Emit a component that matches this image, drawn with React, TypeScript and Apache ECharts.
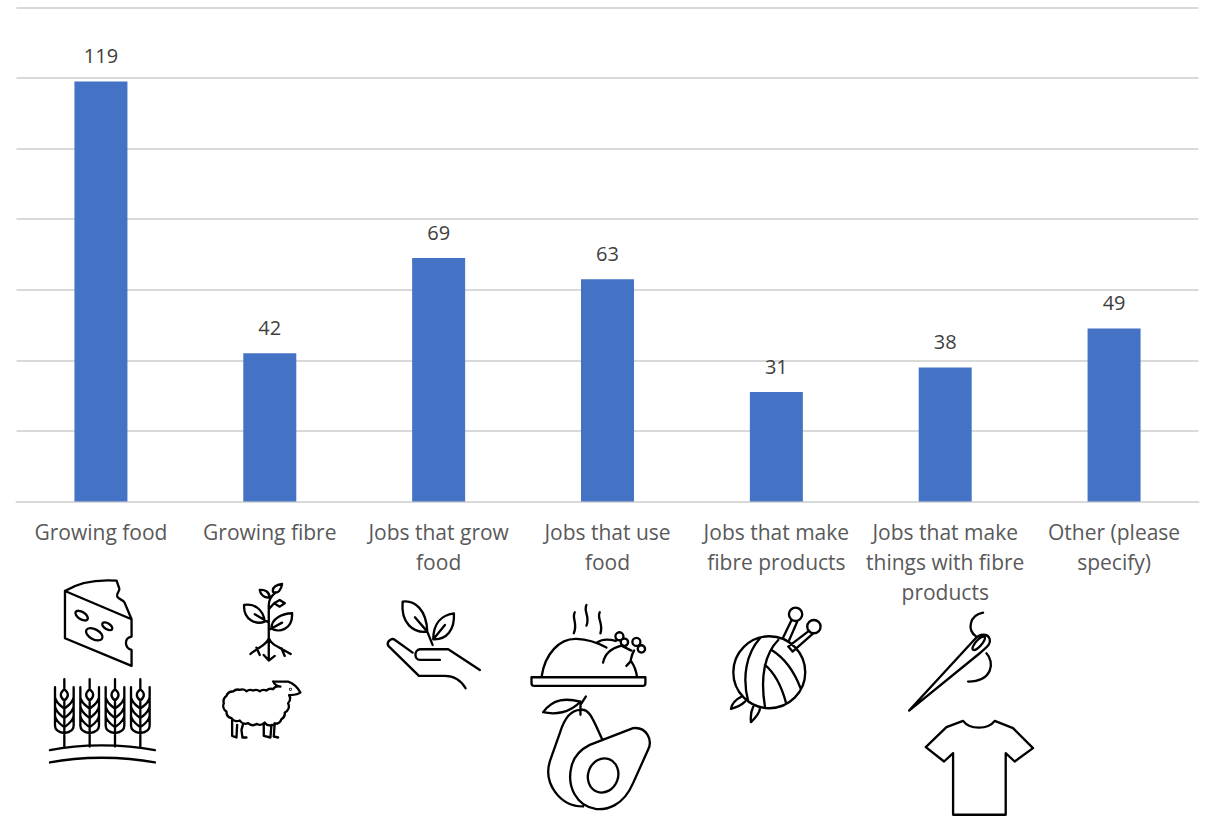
import React, { useEffect, useRef } from "react";
import * as echarts from "echarts";

const categories = [
  "Growing food",
  "Growing fibre",
  "Jobs that grow\nfood",
  "Jobs that use\nfood",
  "Jobs that make\nfibre products",
  "Jobs that make\nthings with fibre\nproducts",
  "Other (please\nspecify)",
];
const values = [119, 42, 69, 63, 31, 38, 49];
const axisMax = 140;
const axisStep = 20;

const ell = (cx: number, cy: number, rx: number, ry: number, rot: number) => {
  const a = (rot * Math.PI) / 180;
  const k = 0.5523;
  const p = (u: number, v: number) => {
    const x = cx + u * rx * Math.cos(a) - v * ry * Math.sin(a);
    const y = cy + u * rx * Math.sin(a) + v * ry * Math.cos(a);
    return `${x.toFixed(1)} ${y.toFixed(1)}`;
  };
  return (
    `M${p(1, 0)}C${p(1, k)} ${p(k, 1)} ${p(0, 1)}C${p(-k, 1)} ${p(-1, k)} ${p(-1, 0)}` +
    `C${p(-1, -k)} ${p(-k, -1)} ${p(0, -1)}C${p(k, -1)} ${p(1, -k)} ${p(1, 0)}Z`
  );
};
const circle = (cx: number, cy: number, r: number) => ell(cx, cy, r, r, 0);
const bumps = (pts: number[][], r: number) =>
  `M${pts[0][0]} ${pts[0][1]}` + pts.slice(1).map((p) => `A${r} ${r} 0 0 0 ${p[0]} ${p[1]}`).join("");

const icons: Record<string, { o: number[]; d: string; at?: number[] }> = {
  cheese: {
    o: [30, 570],
    d:
      "M105 63C150 35 200 28 260 32L268 55C272 62 258 68 262 80C268 90 280 88 284 98L305 148L105 63L105 205L305 288L305 240C285 235 280 205 305 200L305 148" +
      ell(155, 137, 21, 11, 32) + ell(232, 169, 17, 9, 32) + ell(193, 193, 27, 15, 28),
  },
  ground: { o: [30, 570], d: "M60 541C150 522 280 522 375 541M60 578C150 559 280 559 375 578" },
  wheat: {
    o: [30, 570],
    at: [103, 179, 255, 331],
    d:
      "M0 328L0 358C-14 370 -14 382 0 392C14 382 14 370 0 358M0 392L0 530" +
      "M-28 352L-28 468C-28 482 -15 488 0 490C15 488 28 482 28 468L28 352" +
      "M-28 382C-25 400 -10 408 0 416C10 408 25 400 28 382" +
      "M-28 410C-25 428 -10 436 0 445C10 436 25 428 28 410" +
      "M-28 438C-25 456 -10 464 0 472C10 464 25 456 28 438",
  },
  sprout: {
    o: [30, 570],
    d:
      "M717 272L717 105C717 85 728 75 738 67M757 42C740 44 726 52 730 66C745 72 755 60 757 42" +
      "M690 60C705 58 718 65 720 82C705 85 692 75 690 60M717 118L733 100L750 90L765 100L750 110L733 100" +
      "M643 105C670 100 700 115 705 155C680 165 640 150 643 105M675 133L717 158" +
      "M787 130C760 130 725 145 725 175C745 190 790 180 787 130M717 180L757 158" +
      "M717 205C710 225 690 230 662 252M680 233L690 255M717 205C725 225 745 230 783 252M755 235L765 258M702 255L717 272L735 258",
  },
  sheep: {
    o: [30, 570],
    d:
      bumps(
        [[752, 350], [730, 358], [710, 362], [690, 364], [670, 362], [650, 364], [630, 360], [610, 365], [590, 378], [582, 400], [590, 425], [605, 445], [630, 452], [655, 460], [680, 462], [705, 458], [735, 462], [755, 448], [765, 428], [775, 400], [778, 376]],
        20,
      ) +
      "M730 335C735 345 745 350 752 350M730 335L775 335C790 340 805 355 812 368C805 375 795 375 778 376" +
      "M607 448L607 498L620 503L622 465M640 462L635 480L638 503L650 503M702 460L702 498L722 503L725 465M735 460L732 500L745 503" +
      circle(782, 358, 1),
  },
  hand: {
    o: [370, 580],
    d:
      "M128 218L75 180C65 172 48 185 55 198L147 288L225 288C255 288 275 305 287 325M330 270L235 208L150 208C132 210 132 240 150 240L210 240" +
      "M98 65C135 60 170 90 172 155C130 160 92 130 98 65M135 112L172 155L188 195M252 100C215 105 190 130 190 178C230 180 255 150 252 100M190 178L225 135",
  },
  turkey: {
    o: [370, 580],
    d:
      "M615 97C605 115 625 130 612 160M650 75C640 95 662 110 650 137M690 97C680 115 702 130 692 160" +
      "M485 292L827 292L827 310Q827 318 819 318L493 318Q485 318 485 310Z" +
      "M515 292C525 220 570 175 620 177C660 178 690 192 710 203M683 187C700 175 720 178 738 183" +
      "M700 248C705 220 725 205 755 197L785 212M770 258L782 245C786 230 785 225 793 212M785 245C795 260 800 275 802 292" +
      circle(749, 169, 12) + circle(764, 187, 11) + circle(800, 186, 12) + circle(815, 207, 11),
  },
  avocado: {
    o: [370, 580],
    d:
      "M648 350L632 375L632 405M632 365C590 355 550 355 520 397C555 405 600 400 632 365" +
      "M698 480C670 420 660 385 632 390C605 390 585 410 570 460L540 545C520 610 570 680 640 680" +
      "M790 445C830 440 850 480 835 510L790 610C760 680 710 690 680 688C620 680 590 620 605 560C612 530 630 510 660 495Z" +
      ell(700, 587, 52, 45, -70),
  },
  yarn: {
    o: [710, 590],
    d:
      circle(178, 247, 108) +
      "M150 145C110 190 95 260 115 335M205 150C165 190 150 260 165 350M165 225C195 250 215 290 228 338M185 180C225 205 255 250 272 295" +
      "M220 142L245 90M238 150L262 95" + circle(257, 73, 20) +
      "M235 170L298 122M248 185L310 130M235 170L248 185" + circle(312, 110, 20) +
      "M95 320C75 330 65 345 63 357C80 352 95 345 105 335M130 350C120 370 122 385 123 397C135 385 150 370 150 355",
  },
  needle: {
    o: [710, 590],
    d:
      "M598 362L795 148C810 130 835 130 840 148C845 165 825 175 810 190L598 362" +
      ell(807, 160, 26, 9, -48) +
      "M820 68C780 75 770 120 800 140M830 190C855 215 850 275 775 275",
  },
  shirt: {
    o: [710, 590],
    d: "M760 393C780 420 835 420 855 393L910 415L970 475L915 515L888 490L888 675L730 675L730 490L703 515L648 472L710 412Z",
  },
};

const iconElements = () => {
  const out: any[] = [];
  Object.keys(icons).forEach((name) => {
    const ic = icons[name];
    const shape = "icon_" + name;
    echarts.graphic.registerShape(shape, echarts.graphic.extendPath(ic.d, {}));
    (ic.at || [0]).forEach((dx) => {
      out.push({
        type: shape,
        x: ic.o[0] + dx / 3,
        y: ic.o[1],
        scaleX: 1 / 3,
        scaleY: 1 / 3,
        silent: true,
        style: { fill: "none", stroke: "#000", lineWidth: 7, lineJoin: "round", lineCap: "round" },
      });
    });
  });
  return out;
};

export default function App() {
  const ref = useRef<HTMLDivElement>(null);
  useEffect(() => {
    const chart = echarts.init(ref.current!, undefined, { renderer: "svg" });
    chart.setOption({
      animation: false,
      backgroundColor: "#fff",
      grid: { left: 16.5, right: 6.5, top: 7.5, bottom: 314.5 },
      xAxis: {
        type: "category",
        data: categories,
        axisLine: { show: true, lineStyle: { color: "#D9D9D9", width: 2 } },
        axisTick: { show: false },
        axisLabel: {
          interval: 0,
          margin: 15,
          color: "#595959",
          fontFamily: "Open Sans",
          fontSize: 21,
          lineHeight: 30,
        },
      },
      yAxis: {
        type: "value",
        min: 0,
        max: axisMax,
        interval: axisStep,
        axisLabel: { show: false },
        axisLine: { show: false },
        axisTick: { show: false },
        splitLine: { lineStyle: { color: "#D9D9D9", width: 2 } },
      },
      series: [
        {
          type: "bar",
          data: values,
          barWidth: 53,
          itemStyle: { color: "#4472C4" },
          label: {
            show: true,
            position: "top",
            distance: 16,
            color: "#404040",
            fontFamily: "Open Sans",
            fontSize: 20,
          },
        },
      ],
      graphic: { elements: iconElements() },
    });
    return () => chart.dispose();
  }, []);
  return <div ref={ref} style={{ position: "fixed", left: 0, top: 0, width: 1205, height: 816 }} />;
}
